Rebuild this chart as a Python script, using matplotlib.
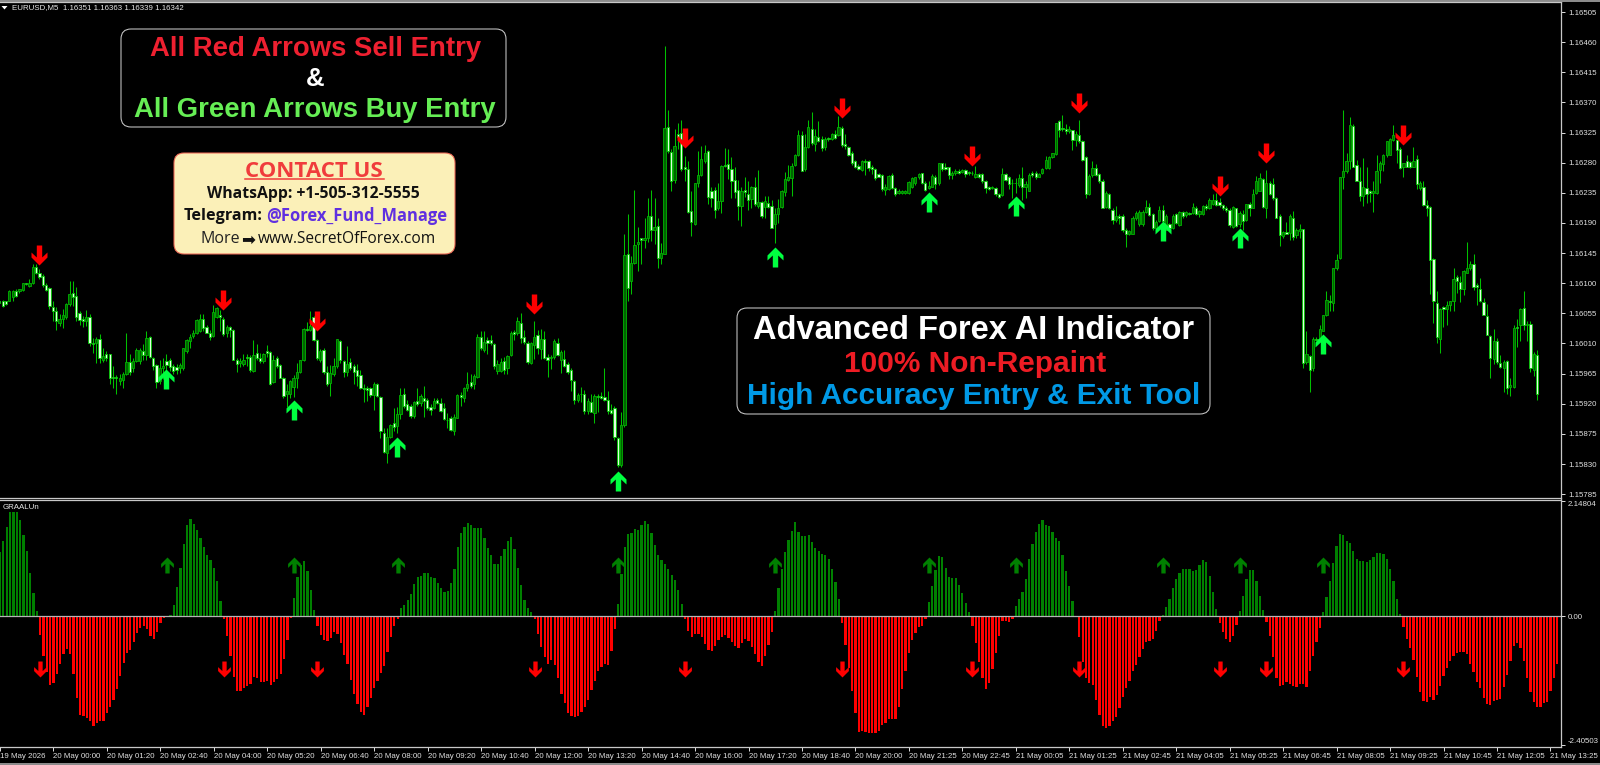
import matplotlib
matplotlib.use("Agg")
import matplotlib.pyplot as plt
import numpy as np
from matplotlib.patches import FancyBboxPatch
from matplotlib.path import Path

# prices are read as points above 1.15000
price_base = 1.15

body_tops = [
    1074,1074,1073,1088,1089,1088,1091,1100,1100,1101,1124,1124,1116,1111,1098,1093,1065,1058,1047,1052,
    1069,1084,1085,1081,1055,1046,1050,1049,1011,1017,1016,992,994,994,960,960,959,964,983,983,
    984,1000,1001,999,1018,1020,988,978,974,977,984,985,976,975,978,1003,1015,1020,1026,1045,
    1047,1046,1035,1026,1057,1063,1052,1046,1034,1034,1030,985,984,985,990,990,993,996,989,994,
    999,997,986,988,978,959,939,954,958,968,985,1031,1031,1036,1049,1015,
    999,1000,968,966,976,1016,1014,984,979,982,976,970,963,943,943,943,950,949,930,877,
    870,889,891,905,933,934,919,916,922,924,932,929,925,915,924,926,921,913,896,899,
    900,933,933,943,950,952,962,1020,1019,1012,1015,1015,1009,980,983,984,991,1026,1027,1043,
    1041,1019,1011,1010,1020,1023,1016,1016,990,990,1013,1011,998,987,979,970,954,933,935,935,
    924,923,931,931,931,930,926,910,914,869,888,
    1142,1144,1130,1157,1162,1167,1167,1200,1201,1184,1185,1145,1332,1333,1296,1305,1323,1325,1273,1270,
    1208,1249,1261,1285,1294,1297,1237,1239,1223,1275,1276,1278,1271,1254,1239,1237,1239,1234,1243,1244,
    1222,1221,1223,1220,1215,1204,1213,1237,1255,1259,1275,1291,1321,1321,1304,1333,1331,1320,1319,1315,
    1315,1317,1323,1323,1333,1332,1308,1303,1295,1282,1275,
    1283,1283,1283,1274,1271,1263,1262,1244,1260,1261,1242,1237,1237,1238,1251,1257,1258,1263,1264,1249,
    1245,1260,1258,1279,1279,1274,1273,1265,1268,1268,1269,1269,1266,1265,1263,1263,1263,1253,1243,1244,
    1242,1234,1263,1263,1259,1250,1250,1257,1257,1248,1262,1265,1265,1263,1270,1284,1288,1294,1339,1342,
    1332,1330,1331,1329,1323,1322,1313,1289,1260,1272,1272,1263,1253,1235,1234,1210,1201,1201,1201,1179,
    1178,1198,1205,1207,1207,1214,1214,1204,1192,1209,1210,1201,1189,1200,1203,1207,1207,1206,1205,1214,
    1213,1208,1215,1215,1224,1225,1224,1222,1217,1213,
    1210,1214,1212,1205,1204,1218,1218,1234,1253,1257,1255,1249,1250,1248,1228,1200,1177,1176,1200,1198,
    1179,1181,1181,994,992,1016,1017,1032,1053,1075,1074,1122,1135,1259,1267,1283,1337,1335,1277,1253,
    1243,1242,1238,1237,1267,1279,1291,1313,1316,1322,1314,1301,1279,1282,1281,1283,1286,1249,1243,1217,
    1214,1136,1071,1062,1064,1068,1073,1106,1109,1102,1119,1123,1129,1129,1098,1091,1072,1051,1021,1014,
    1014,981,983,984,948,1033,1035,1062,1063,1039,1039,994,993,
]
body_bots = [
    1070,1066,1069,1074,1079,1081,1088,1090,1099,1096,1100,1116,1110,1098,1090,1066,1059,1043,1040,1046,
    1049,1069,1079,1049,1045,1043,1044,1011,1009,1011,988,985,988,958,958,958,954,955,965,968,
    973,984,984,993,993,990,976,953,954,973,978,975,969,970,974,974,999,1013,1021,1026,
    1029,1033,1026,1020,1021,1050,1050,1024,1025,1030,986,979,981,980,988,971,969,989,984,984,
    996,949,953,976,959,931,935,935,945,959,968,985,1030,1030,1015,988,
    985,968,950,951,965,976,986,967,968,974,968,961,943,942,941,933,933,931,879,848,
    846,870,885,887,905,917,911,901,901,920,921,924,913,911,914,921,909,897,895,881,
    879,899,930,929,943,947,949,960,1003,1000,1010,1011,976,969,969,970,974,993,1024,1025,
    1018,1012,983,981,1008,1003,1002,989,986,989,990,993,985,977,967,955,925,925,934,909,
    909,908,906,930,929,926,909,906,870,829,828,
    888,1093,1103,1130,1158,1164,1165,1167,1180,1180,1137,1137,1144,1298,1253,1254,1318,1270,1270,1207,
    1192,1189,1249,1262,1283,1229,1227,1209,1212,1223,1275,1270,1253,1236,1216,1215,1236,1225,1226,1218,
    1215,1200,1214,1214,1183,1188,1204,1214,1236,1254,1257,1277,1291,1268,1270,1303,1309,1308,1313,1302,
    1303,1315,1315,1317,1322,1307,1305,1292,1279,1274,1270,
    1269,1281,1272,1271,1257,1259,1241,1239,1241,1242,1233,1235,1235,1235,1235,1243,1249,1258,1250,1239,
    1242,1244,1248,1249,1271,1271,1262,1262,1265,1265,1266,1263,1264,1264,1259,1258,1252,1242,1241,1242,
    1233,1229,1232,1254,1248,1249,1249,1247,1243,1244,1238,1262,1258,1259,1265,1272,1272,1288,1293,1329,
    1330,1328,1328,1314,1314,1312,1284,1233,1234,1262,1262,1252,1213,1214,1212,1194,1194,1198,1179,1174,
    1174,1174,1198,1188,1188,1207,1202,1182,1183,1193,1193,1180,1183,1183,1190,1187,1200,1202,1204,1205,
    1204,1203,1204,1213,1213,1219,1217,1217,1212,1209,
    1187,1184,1185,1188,1193,1194,1213,1213,1235,1238,1214,1213,1233,1227,1198,1172,1170,1174,1175,1169,
    1172,1178,981,983,971,973,1015,1017,1029,1052,1072,1070,1122,1137,1259,1268,1283,1273,1253,1230,
    1231,1234,1235,1235,1235,1269,1278,1291,1292,1314,1299,1272,1273,1274,1273,1274,1248,1242,1217,1213,
    1134,1073,1019,1017,1062,1062,1068,1074,1103,1092,1091,1116,1123,1095,1094,1073,1052,1023,988,987,
    983,975,974,943,945,945,1033,1037,1037,1037,973,971,935,
]
wick_highs = [
    1075,1075,1074,1090,1090,1091,1092,1101,1101,1106,1129,1128,1121,1114,1100,1095,1074,1064,1054,1061,
    1070,1103,1104,1095,1059,1051,1060,1054,1018,1020,1024,1004,999,995,976,963,965,968,1026,995,
    989,1003,1004,1009,1029,1021,990,980,986,988,994,988,979,979,981,1004,1016,1024,1030,1046,
    1054,1054,1037,1030,1068,1065,1060,1049,1037,1036,1031,989,988,995,995,993,1015,1009,996,996,
    1008,999,993,991,980,960,949,955,963,981,986,1033,1042,1059,1051,1016,
    1002,1003,976,978,989,1017,1015,986,1006,989,979,979,971,949,946,945,952,951,931,884,
    884,890,914,915,943,943,925,919,924,944,935,946,929,920,929,929,928,921,906,901,
    904,935,938,945,967,965,965,1024,1028,1029,1019,1023,1011,985,989,990,993,1028,1030,1050,
    1055,1030,1013,1012,1044,1030,1031,1028,994,993,1016,1018,1001,1001,982,973,956,936,945,940,
    928,934,934,934,938,974,939,920,916,871,907,
    1173,1204,1140,1239,1184,1168,1198,1227,1239,1228,1198,1160,1454,1359,1300,1330,1340,1344,1290,1283,
    1238,1250,1297,1305,1307,1299,1243,1243,1250,1276,1302,1301,1289,1274,1254,1243,1258,1253,1245,1258,
    1269,1223,1230,1230,1224,1213,1226,1239,1266,1276,1279,1293,1329,1328,1323,1344,1356,1330,1343,1320,
    1319,1319,1325,1329,1350,1335,1323,1305,1298,1284,1278,
    1284,1285,1284,1277,1272,1265,1263,1248,1261,1265,1243,1240,1239,1239,1253,1259,1259,1265,1265,1252,
    1253,1263,1262,1280,1280,1279,1274,1268,1270,1270,1270,1270,1267,1267,1275,1265,1264,1254,1245,1245,
    1243,1235,1272,1265,1260,1255,1257,1263,1273,1252,1264,1267,1267,1265,1272,1290,1290,1295,1340,1344,
    1351,1338,1335,1329,1328,1344,1314,1290,1263,1283,1278,1265,1255,1237,1235,1213,1215,1204,1203,1182,
    1180,1200,1208,1209,1209,1224,1220,1205,1194,1215,1217,1204,1190,1203,1205,1208,1208,1208,1207,1220,
    1215,1210,1217,1218,1227,1234,1235,1228,1219,1216,
    1212,1215,1213,1208,1210,1219,1221,1240,1260,1265,1257,1269,1253,1257,1229,1204,1178,1192,1203,1208,
    1183,1189,1181,1028,993,1020,1020,1038,1053,1088,1083,1123,1143,1259,1358,1294,1349,1338,1284,1274,
    1287,1273,1239,1253,1291,1283,1293,1313,1317,1336,1314,1303,1280,1292,1283,1303,1291,1253,1253,1224,
    1215,1138,1089,1063,1066,1073,1074,1123,1113,1111,1120,1161,1133,1144,1100,1108,1078,1069,1023,1032,
    1018,993,985,985,959,1038,1046,1063,1089,1043,1043,998,1000,
]
wick_lows = [
    1067,1064,1068,1073,1074,1079,1085,1089,1098,1095,1099,1114,1107,1095,1088,1061,1044,1030,1036,1033,
    1046,1066,1066,1044,1038,1035,1036,1006,996,981,981,983,984,950,943,935,948,944,963,963,
    967,983,980,986,986,989,970,943,949,957,965,969,965,965,966,971,996,1004,1018,1024,
    1027,1029,1025,1015,1019,1048,1029,1021,1020,1020,985,968,975,976,976,968,968,986,981,981,
    990,948,951,974,958,929,915,928,930,944,966,984,1028,1029,1013,986,
    982,965,947,931,962,974,981,960,962,970,950,946,942,922,924,930,911,930,869,847,
    832,869,880,877,897,913,909,899,899,916,917,900,911,903,912,919,907,895,884,879,
    873,898,916,922,939,944,942,959,1001,998,995,1008,972,964,967,964,965,991,1015,1023,
    1010,1009,980,979,987,995,987,987,960,972,987,991,966,975,965,939,920,922,922,905,
    904,907,892,907,927,924,904,904,866,825,825,
    886,1074,1084,1128,1118,1129,1153,1162,1163,1158,1123,1128,1143,1294,1238,1250,1300,1268,1253,1205,
    1171,1187,1243,1260,1280,1218,1214,1197,1210,1205,1273,1255,1228,1228,1195,1185,1229,1210,1213,1215,
    1213,1198,1198,1212,1182,1160,1190,1213,1230,1252,1230,1275,1290,1267,1267,1302,1307,1298,1311,1297,
    1299,1312,1314,1315,1320,1303,1300,1290,1277,1272,1269,
    1267,1261,1268,1263,1254,1258,1238,1232,1239,1240,1230,1233,1233,1234,1234,1242,1247,1256,1248,1237,
    1240,1243,1240,1247,1268,1269,1256,1255,1262,1263,1264,1259,1262,1262,1257,1257,1250,1235,1239,1240,
    1230,1227,1230,1252,1240,1228,1235,1244,1224,1227,1237,1259,1256,1258,1263,1270,1271,1287,1292,1318,
    1328,1323,1325,1299,1305,1310,1283,1228,1232,1258,1260,1250,1212,1213,1211,1188,1192,1188,1177,1154,
    1172,1173,1195,1185,1186,1205,1200,1180,1181,1191,1191,1179,1181,1181,1188,1185,1198,1199,1202,1204,
    1202,1199,1202,1210,1211,1217,1215,1214,1210,1207,
    1184,1183,1184,1184,1179,1193,1200,1212,1234,1237,1213,1198,1232,1224,1197,1155,1168,1173,1164,1165,
    1167,1168,974,980,938,969,1013,1015,1028,1051,1059,1059,1120,1136,1240,1265,1270,1273,1252,1223,
    1215,1220,1222,1206,1234,1249,1268,1288,1291,1313,1280,1271,1259,1273,1272,1273,1241,1239,1216,1200,
    1084,1041,1011,996,1034,1038,1059,1059,1086,1072,1082,1115,1120,1090,1067,1072,1052,1023,958,980,
    980,973,937,934,931,944,1005,1014,1030,1013,968,962,925,
]
# u = rising bar (dark body), d = falling bar (pale body)
candle_dirs = (
    "ddduuduudu" "uddddddduu" "uuddddu" "ddu" "duddddu" "uud" "uuududdduu" "dddduuuuuu" "uddduuddud"
    "dduuddu" "ddu" "ddudddu" "uuu" "uududd"
    "udduuuddud" "ddddddu" "ddd" "uuduu" "dddud" "udddu" "ddddd" "uuduu" "duudu" "ddduu" "duudu"
    "ddduu" "duddu" "ududdddudd" "ududdddddd" "u"
    "uduuuduudu" "duuddudddd" "duuuuddduu" "ddddduddud" "ududduuuuu" "uuuduududd" "udududdddd" "d"
    "udddddduud" "duuuuuuudd" "uududdduud" "uddduddddu" "ddudddu" "udu" "udduuuuuud" "ddududdduu"
    "dddudduddd" "uuuuuudduu" "dududududu" "duuduudddd"
    "dudududuuu" "duddddudud" "uudududuuu" "duuuuuuddd" "udduuuuuuu"
    "ddu" "ddu" "du" "dd" "ddd" "u" "d" "uuu" "dd" "uuu" "dddddd" "u" "dd" "u" "d" "uu" "d" "u" "d" "u" "dud"
)

# GRAALUn histogram, one value per bar
hist_values = [
    1.33,1.54,1.84,2.14,2.14,2.14,1.98,1.67,1.35,.89,.47,.10,
    -.39,-.82,-1.15,-1.41,-1.37,-1.19,-.99,-.78,-.68,-.78,-1.19,-1.68,-2.04,-2.06,-2.10,-2.16,-2.26,-2.20,
    -2.17,-2.16,-2.00,-1.87,-1.73,-1.50,-1.23,-.97,-.76,-.69,-.54,-.35,-.25,-.21,-.27,-.41,-.48,-.33,-.14,-.03,
    .01,.03,.23,.60,1.00,1.48,1.87,1.99,1.90,1.77,1.61,1.43,1.25,1.15,1.00,.73,.32,
    -.05,-.41,-.82,-1.26,-1.54,-1.54,-1.48,-1.44,-1.39,-1.26,-1.28,-1.35,-1.35,-1.34,-1.41,-1.35,-1.30,-1.19,-.89,-.49,-.04,
    .38,.80,1.05,1.13,.93,.53,.13,
    -.21,-.39,-.49,-.52,-.45,-.33,-.36,-.55,-.80,-.99,-1.31,-1.61,-1.81,-1.98,-2.04,-1.87,-1.69,-1.49,-1.33,-1.17,-1.02,-.74,-.44,-.20,-.05,
    .17,.23,.33,.46,.67,.81,.83,.88,.88,.81,.79,.69,.58,.50,.52,.69,.98,1.43,1.72,1.84,1.92,1.88,1.81,1.81,1.81,
    1.61,1.40,1.25,1.08,1.08,1.23,1.39,1.54,1.63,1.39,1.00,.65,.34,.16,.09,
    -.05,-.37,-.64,-.84,-.99,-.91,-1.01,-1.28,-1.61,-1.78,-2.00,-2.06,-2.07,-2.05,-1.97,-1.87,-1.72,-1.52,-1.33,-1.14,-1.05,-.99,-1.00,-.71,-.27,
    .25,.87,1.43,1.70,1.72,1.80,1.78,1.88,1.96,1.90,1.72,1.47,1.26,1.16,1.07,.98,.85,.75,.54,.25,
    -.05,-.30,-.44,-.37,-.37,-.44,-.58,-.70,-.71,-.62,-.50,-.42,-.38,-.46,-.54,-.62,-.65,-.56,-.47,-.52,-.64,-.78,-.95,-1.02,-.83,-.59,-.32,
    .11,.57,.98,1.33,1.57,1.76,1.94,1.74,1.66,1.66,1.68,1.53,1.41,1.35,1.28,1.25,1.18,.98,.71,.35,
    -.15,-.60,-1.06,-1.54,-2.00,-2.38,-2.37,-2.38,-2.40,-2.41,-2.40,-2.36,-2.25,-2.20,-2.11,-2.11,-2.11,-1.87,-1.50,-1.14,-.76,-.49,-.34,-.23,-.20,-.06,
    .30,.62,.95,1.23,1.21,.99,.80,.78,.78,.65,.47,.28,.08,
    -.20,-.55,-.94,-1.28,-1.51,-1.37,-1.08,-.75,-.40,-.10,-.10,-.13,-.05,
    .21,.36,.49,.76,1.18,1.49,1.73,1.90,1.97,1.87,1.85,1.73,1.61,1.54,1.26,.92,.62,.32,
    -.01,-.42,-.94,-1.28,-1.37,-1.42,-1.72,-2.03,-2.27,-2.31,-2.27,-2.16,-2.08,-1.90,-1.66,-1.49,-1.33,-1.14,-1.00,-.85,-.68,-.54,-.51,-.47,-.30,-.10,
    .03,.18,.36,.57,.77,.88,.98,.98,.98,.92,.95,1.06,1.16,1.11,.83,.49,.14,
    -.14,-.32,-.47,-.54,-.40,-.19,
    .10,.42,.76,.94,.94,.73,.41,.12,
    -.12,-.41,-.84,-1.28,-1.43,-1.42,-1.36,-1.39,-1.43,-1.46,-1.39,-1.40,-1.45,-1.14,-.82,-.54,-.25,
    .08,.39,.72,1.09,1.44,1.69,1.67,1.54,1.51,1.35,1.18,1.13,1.13,1.12,1.15,1.22,1.30,1.30,1.28,1.18,.98,.72,.35,.04,
    -.23,-.47,-.65,-.91,-1.26,-1.57,-1.75,-1.76,-1.66,-1.73,-1.63,-1.43,-1.23,-1.06,-.92,-.82,-.76,-.74,-.73,-.78,-.98,-1.16,-1.35,-1.48,
    -1.68,-1.81,-1.83,-1.74,-1.73,-1.71,-1.47,-1.22,-.93,-.61,-.56,-.65,-.93,-1.28,-1.57,-1.77,-1.87,-1.87,-1.79,-1.76,-1.54,-1.28,-.99,
]

# signal arrows: bar index and price of the arrow's middle
sell_bars = [12, 67, 95, 160, 205, 252, 291, 323, 365, 379, 420]
sell_prices = [1142, 1075, 1043, 1069, 1317, 1362, 1290, 1369, 1245, 1294, 1321]
buy_bars = [50, 88, 119, 185, 232, 278, 304, 348, 371, 396]
buy_prices = [957, 910, 855, 804, 1139, 1221, 1215, 1178, 1167, 1009]

time_labels = [
    "19 May 2026", "20 May 00:00", "20 May 01:20", "20 May 02:40", "20 May 04:00", "20 May 05:20",
    "20 May 06:40", "20 May 08:00", "20 May 09:20", "20 May 10:40", "20 May 12:00", "20 May 13:20",
    "20 May 14:40", "20 May 16:00", "20 May 17:20", "20 May 18:40", "20 May 20:00", "20 May 21:25",
    "20 May 22:45", "21 May 00:05", "21 May 01:25", "21 May 02:45", "21 May 04:05", "21 May 05:25",
    "21 May 06:45", "21 May 08:05", "21 May 09:25", "21 May 10:45", "21 May 12:05", "21 May 13:25",
]
price_ticks = [1.16505, 1.16460, 1.16415, 1.16370, 1.16325, 1.16280, 1.16235, 1.16190, 1.16145,
               1.16100, 1.16055, 1.16010, 1.15965, 1.15920, 1.15875, 1.15830, 1.15785]
hist_ticks = [2.14804, 0.0, -2.40503]
hist_tick_labels = ["2.14804", "0.00", "-2.40503"]

W, H = 1600, 765
AXIS_COL = "#c8c8c8"
TICK_FONT = "Liberation Sans"
TICK_SIZE = 5.7

plt.rcParams["font.family"] = ["Liberation Sans", "DejaVu Sans"]

UP_ARROW = Path([(0, 1), (.8, .2), (.8, -.3), (.27, .2), (.27, -1), (-.27, -1), (-.27, .2), (-.8, -.3), (-.8, .2), (0, 1)])
DOWN_ARROW = Path([(0, -1), (.8, -.2), (.8, .3), (.27, -.2), (.27, 1), (-.27, 1), (-.27, -.2), (-.8, .3), (-.8, -.2), (0, -1)])


def price(pts):
    return price_base + np.asarray(pts) / 1e5


def px_rect(x0, y_top, x1, y_bot):
    return [x0 / W, 1 - y_bot / H, (x1 - x0) / W, (y_bot - y_top) / H]


def style_axes(ax):
    ax.set_facecolor("black")
    for side in ("left", "top", "bottom", "right"):
        ax.spines[side].set_color(AXIS_COL)
        ax.spines[side].set_linewidth(0.9)
    ax.spines["left"].set_visible(False)
    ax.yaxis.tick_right()
    ax.tick_params(axis="y", colors="#e0e0e0", length=3, width=0.7, pad=2, labelsize=TICK_SIZE)
    for lab in ax.get_yticklabels():
        lab.set_family(TICK_FONT)


def draw_candles(ax):
    x = np.arange(len(body_tops))
    tops, bots = price(body_tops), price(body_bots)
    ax.vlines(x, price(wick_lows), price(wick_highs), color="#00c000", lw=0.75, zorder=2)
    rising = np.array([d == "u" for d in candle_dirs])
    heights = tops - bots
    ax.bar(x[rising], heights[rising], bottom=bots[rising], width=0.68, color="#006400",
           edgecolor="#00b400", linewidth=0.6, zorder=3)
    ax.bar(x[~rising], heights[~rising], bottom=bots[~rising], width=0.68, color="#e0ffe0",
           edgecolor="#00c800", linewidth=0.6, zorder=3)


def draw_histogram(ax):
    vals = np.array(hist_values) * 0.906  # read at 48.55 px per unit, this axis runs 53.6
    x = np.arange(len(vals))
    pos = vals >= 0
    ax.bar(x[pos], vals[pos], width=0.68, color="#008000", linewidth=0)
    ax.bar(x[~pos], vals[~pos], width=0.68, color="#ff0000", linewidth=0)
    ax.axhline(0, color="#b4b4b4", lw=0.9, zorder=3)
    ax.plot(buy_bars, [0.95] * len(buy_bars), ls="", marker=UP_ARROW, ms=11.5, mfc="#008000", mec="none", zorder=4)
    ax.plot(sell_bars, [-0.99] * len(sell_bars), ls="", marker=DOWN_ARROW, ms=11.5, mfc="#ff0000", mec="none", zorder=4)


def draw_notes(ov):
    def box(x0, y0, x1, y1, face, edge):
        ov.add_patch(FancyBboxPatch((x0 + 10, y0 + 10), x1 - x0 - 20, y1 - y0 - 20,
                                    boxstyle="round,pad=10,rounding_size=10",
                                    fc=face, ec=edge, lw=0.75, zorder=5))

    def note(x, y, s, color, size, weight="bold", family="Liberation Sans", **kw):
        return ov.text(x, y, s, color=color, fontsize=size, fontweight=weight, family=family,
                       ha="center", va="center", zorder=6, **kw)

    box(121, 29, 506, 127, "black", "#c8c8c8")
    note(316, 49, "All Red Arrows Sell Entry", "#ee2030", 19.8)
    note(315, 79, "&", "white", 18.5)
    note(315, 110, "All Green Arrows Buy Entry", "#66ee55", 19.8)

    box(174, 153, 455, 254, "#fbf0b8", "#ee6655")
    note(314, 171, "CONTACT US", "#f03c3c", 16, family="Open Sans")
    ov.plot([245, 384], [178.5, 178.5], color="#f03c3c", lw=1.1, zorder=6)
    note(313, 194, "WhatsApp: +1-505-312-5555", "#111111", 11.3, family="Open Sans")
    ov.text(184, 216, "Telegram:", color="#111111", fontsize=11.6, fontweight="bold", family="Open Sans",
            ha="left", va="center", zorder=6)
    ov.text(266, 216, "@Forex_Fund_Manage", color="#6030e0", fontsize=11.9, fontweight="bold", family="Open Sans",
            ha="left", va="center", zorder=6)
    ov.text(201, 239, "More", color="#222222", fontsize=11.5, family="Open Sans", ha="left", va="center", zorder=6)
    ov.text(241, 240, "\u27a1", color="#111111", fontsize=12, family="DejaVu Sans", ha="left", va="center", zorder=6)
    ov.text(258, 239, "www.SecretOfForex.com", color="#111111", fontsize=11.2, family="Open Sans",
            ha="left", va="center", zorder=6)

    box(737, 308, 1210, 414, "black", "#c8c8c8")
    note(974, 330, "Advanced Forex AI Indicator", "white", 23.5)
    note(975, 364, "100% Non-Repaint", "#ed1c24", 21.5)
    note(974, 396, "High Accuracy Entry & Exit Tool", "#0099e6", 21.4)


def main():
    fig = plt.figure(figsize=(W / 100, H / 100), dpi=100, facecolor="black")

    x_lim = (0.2, 467.15)
    ax_main = fig.add_axes(px_rect(0, 2, 1561, 497.5))
    ax_main.set_xlim(*x_lim)
    ax_main.set_ylim(price(780), price(1520))
    ax_main.set_yticks(price_ticks)
    ax_main.set_yticklabels([f"{p:.5f}" for p in price_ticks])
    ax_main.set_xticks([])
    style_axes(ax_main)
    draw_candles(ax_main)
    ax_main.plot(sell_bars, price(sell_prices), ls="", marker=DOWN_ARROW, ms=14.4, mfc="#ff0000", mec="none", zorder=5)
    ax_main.plot(buy_bars, price(buy_prices), ls="", marker=UP_ARROW, ms=14.4, mfc="#00ff40", mec="none", zorder=5)

    ax_hist = fig.add_axes(px_rect(0, 499.5, 1561, 747))
    ax_hist.set_xlim(*x_lim)
    ax_hist.set_ylim(-2.4424, 2.176)
    ax_hist.set_yticks(hist_ticks)
    ax_hist.set_yticklabels(hist_tick_labels)
    style_axes(ax_hist)
    hist_labels = ax_hist.get_yticklabels()
    hist_labels[0].set_va("top")
    hist_labels[2].set_va("bottom")
    draw_histogram(ax_hist)
    ax_hist.set_xticks(np.arange(len(time_labels)) * 16)
    ax_hist.set_xticklabels(time_labels, ha="left", family=TICK_FONT)
    ax_hist.tick_params(axis="x", colors="#e0e0e0", length=3, width=0.7, pad=1.5, labelsize=TICK_SIZE)

    # header texts and the note boxes sit on a full figure layer in pixels
    ov = fig.add_axes([0, 0, 1, 1], facecolor="none")
    ov.set_xlim(0, W)
    ov.set_ylim(H, 0)
    ov.axis("off")
    ov.plot([0, W], [1, 1], color="#a8a8a8", lw=1.2)
    ov.plot([0, W], [763.5, 763.5], color="#a8a8a8", lw=1.2)
    ov.fill([1.5, 7.5, 4.5], [6, 6, 9.5], color="white", lw=0)
    ov.text(12, 8, "EURUSD,M5  1.16351 1.16363 1.16339 1.16342", color="#e8e8e8",
            fontsize=TICK_SIZE, family=TICK_FONT, ha="left", va="center")
    ov.text(3, 507, "GRAALUn", color="#e8e8e8", fontsize=TICK_SIZE, family=TICK_FONT, ha="left", va="center")
    draw_notes(ov)

    fig.savefig("out.png", dpi=100, facecolor="black")
    plt.close(fig)


if __name__ == "__main__":
    main()
